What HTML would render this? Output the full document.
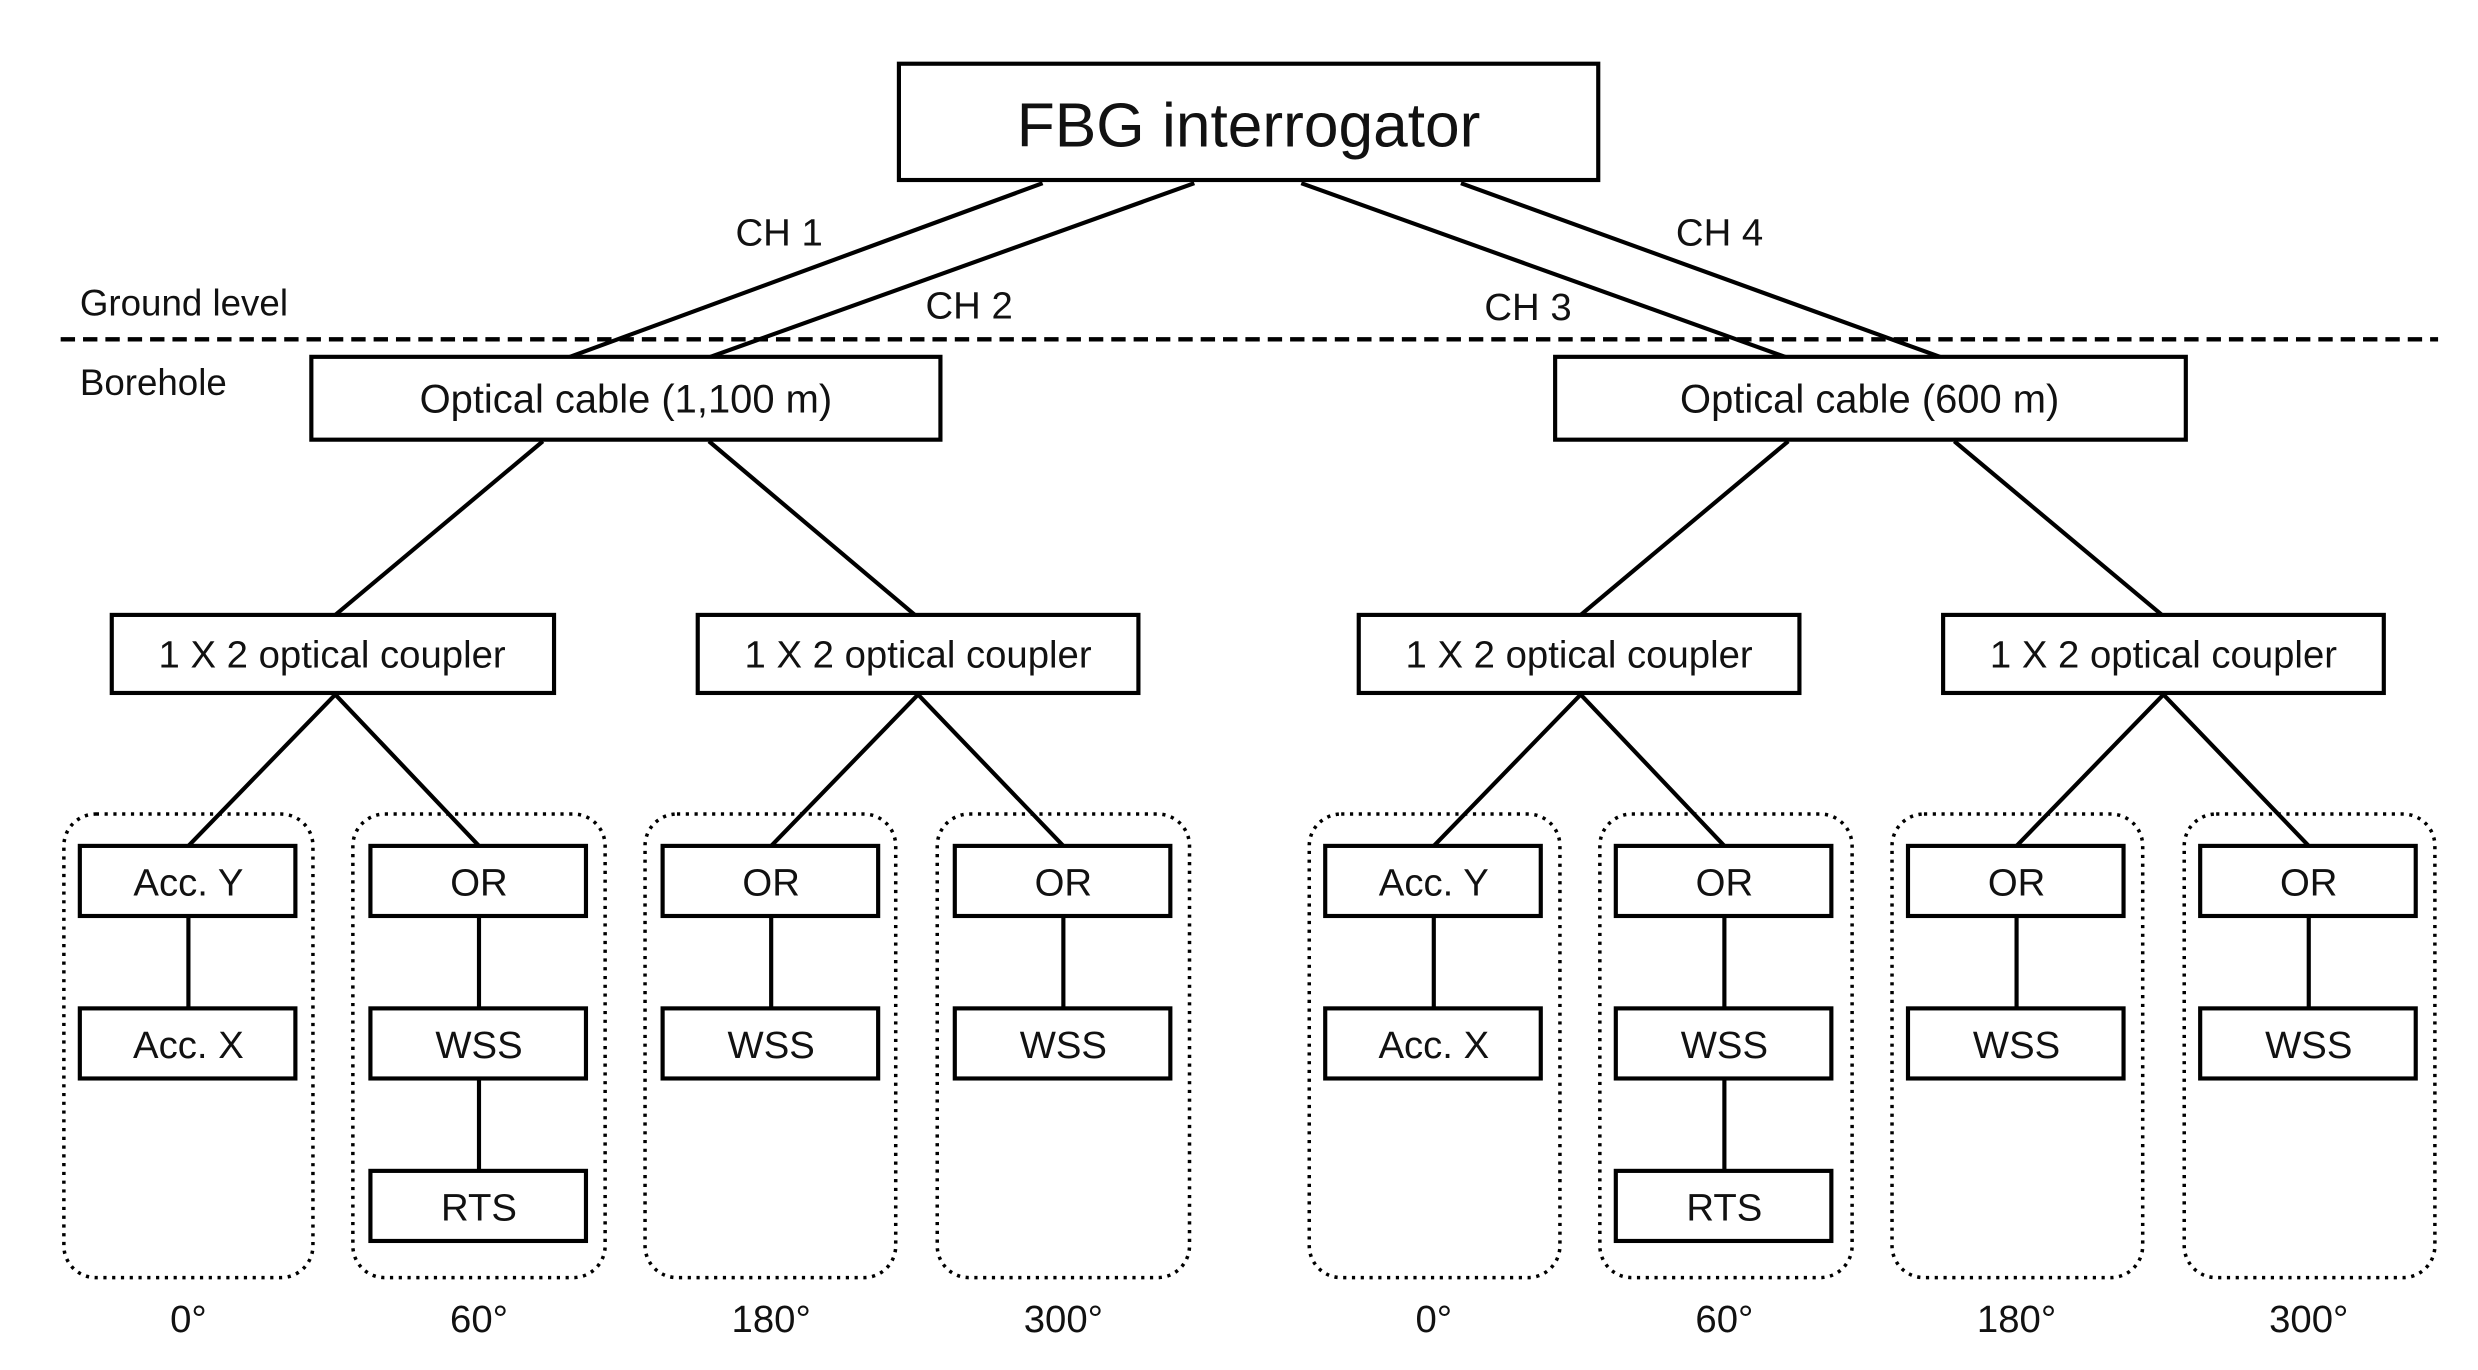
<!DOCTYPE html>
<html><head><meta charset="utf-8"><style>
html,body{margin:0;padding:0;background:#fff;}
svg{display:block;}
text{font-family:"Liberation Sans",Arial,sans-serif;fill:#111;}
</style></head><body>
<svg width="2478" height="1370" viewBox="0 0 1552 860" preserveAspectRatio="none" xmlns="http://www.w3.org/2000/svg">
<rect x="0" y="0" width="1552" height="860" fill="#fff"/>
<g stroke="#000" stroke-width="2.6" fill="none">
<rect x="563" y="40" width="438" height="73"/>
<line x1="653" y1="115" x2="357" y2="224"/>
<line x1="748" y1="115" x2="445" y2="224"/>
<line x1="815" y1="115" x2="1118" y2="224"/>
<line x1="915" y1="115" x2="1215" y2="224"/>
<line x1="38" y1="213" x2="1527" y2="213" stroke-dasharray="9,5" stroke-width="2.8"/>
<rect x="195" y="224" width="394" height="52" fill="#fff"/>
<rect x="974" y="224" width="395" height="52" fill="#fff"/>
<line x1="340" y1="277" x2="210" y2="386"/>
<line x1="444" y1="277" x2="573" y2="386"/>
<line x1="1120" y1="277" x2="990" y2="386"/>
<line x1="1224" y1="277" x2="1354" y2="386"/>
<rect x="70" y="386" width="277" height="49"/>
<rect x="437" y="386" width="276" height="49"/>
<rect x="851" y="386" width="276" height="49"/>
<rect x="1217" y="386" width="276" height="49"/>
<path d="M210 436L118 531M210 436L300 531M575 436L483 531M575 436L666 531M990 436L898 531M990 436L1080 531M1355 436L1263 531M1355 436L1446 531"/>
<g stroke-dasharray="2,3.5" stroke-width="2.2">
<rect x="40" y="511" width="156" height="291" rx="20"/>
<rect x="221" y="511" width="158" height="291" rx="20"/>
<rect x="404" y="511" width="157" height="291" rx="20"/>
<rect x="587" y="511" width="158" height="291" rx="20"/>
<rect x="820" y="511" width="157" height="291" rx="20"/>
<rect x="1002" y="511" width="158" height="291" rx="20"/>
<rect x="1185" y="511" width="157" height="291" rx="20"/>
<rect x="1368" y="511" width="157" height="291" rx="20"/>
</g>
<g fill="#fff">
<rect x="50" y="531" width="135" height="44"/><rect x="50" y="633" width="135" height="44"/>
<rect x="232" y="531" width="135" height="44"/><rect x="232" y="633" width="135" height="44"/><rect x="232" y="735" width="135" height="44"/>
<rect x="415" y="531" width="135" height="44"/><rect x="415" y="633" width="135" height="44"/>
<rect x="598" y="531" width="135" height="44"/><rect x="598" y="633" width="135" height="44"/>
<rect x="830" y="531" width="135" height="44"/><rect x="830" y="633" width="135" height="44"/>
<rect x="1012" y="531" width="135" height="44"/><rect x="1012" y="633" width="135" height="44"/><rect x="1012" y="735" width="135" height="44"/>
<rect x="1195" y="531" width="135" height="44"/><rect x="1195" y="633" width="135" height="44"/>
<rect x="1378" y="531" width="135" height="44"/><rect x="1378" y="633" width="135" height="44"/>
</g>
<path d="M118 576V633M300 576V633M300 678V735M483 576V633M666 576V633M898 576V633M1080 576V633M1080 678V735M1263 576V633M1446 576V633"/>
</g>
<g text-anchor="middle">
<text x="782" y="92" font-size="39">FBG interrogator</text>
<text x="488" y="154" font-size="24">CH 1</text>
<text x="607" y="200" font-size="24">CH 2</text>
<text x="957" y="201" font-size="24">CH 3</text>
<text x="1077" y="154" font-size="24">CH 4</text>
<text x="392" y="259" font-size="25">Optical cable (1,100 m)</text>
<text x="1171" y="259" font-size="25">Optical cable (600 m)</text>
<text x="208" y="419" font-size="24">1 X 2 optical coupler</text>
<text x="575" y="419" font-size="24">1 X 2 optical coupler</text>
<text x="989" y="419" font-size="24">1 X 2 optical coupler</text>
<text x="1355" y="419" font-size="24">1 X 2 optical coupler</text>
<g font-size="24">
<text x="118" y="562">Acc. Y</text><text x="118" y="664">Acc. X</text>
<text x="300" y="562">OR</text><text x="300" y="664">WSS</text><text x="300" y="766">RTS</text>
<text x="483" y="562">OR</text><text x="483" y="664">WSS</text>
<text x="666" y="562">OR</text><text x="666" y="664">WSS</text>
<text x="898" y="562">Acc. Y</text><text x="898" y="664">Acc. X</text>
<text x="1080" y="562">OR</text><text x="1080" y="664">WSS</text><text x="1080" y="766">RTS</text>
<text x="1263" y="562">OR</text><text x="1263" y="664">WSS</text>
<text x="1446" y="562">OR</text><text x="1446" y="664">WSS</text>
<text x="118" y="836">0°</text><text x="300" y="836">60°</text><text x="483" y="836">180°</text><text x="666" y="836">300°</text>
<text x="898" y="836">0°</text><text x="1080" y="836">60°</text><text x="1263" y="836">180°</text><text x="1446" y="836">300°</text>
</g>
</g>
<text x="50" y="198" font-size="23">Ground level</text>
<text x="50" y="248" font-size="23">Borehole</text>
</svg>
</body></html>
